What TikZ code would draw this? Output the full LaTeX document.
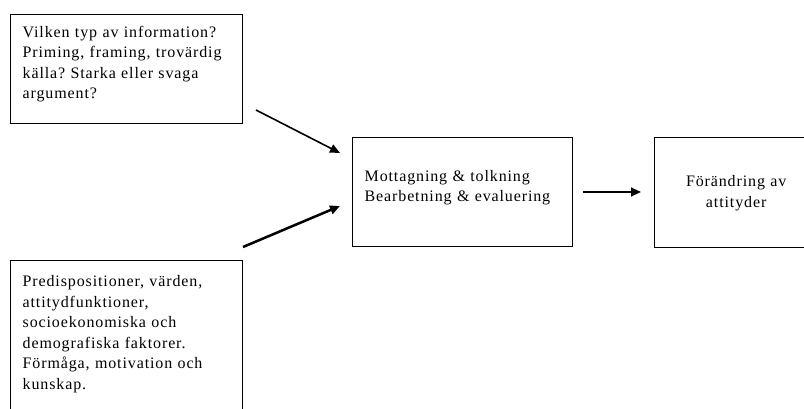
\documentclass[tikz,border=0pt]{standalone}
\usepackage{fontspec}
\setmainfont{Liberation Serif}[LetterSpace=5.5]
\usepackage{tikz}
\usetikzlibrary{arrows.meta}
\frenchspacing

\begin{document}
\begin{tikzpicture}
  [
    x=0.75pt, y=-0.75pt,
    Box/.style={draw=black, line width=1pt, anchor=north west, inner ysep=0pt,
      font={\fontsize{12}{15.4}\selectfont}},
    LeftBox/.style={Box, inner xsep=9pt, text width=156pt, align=left},
    Arrow/.style={-{Triangle[length=7.5pt, width=6.5pt]}, draw}
  ]
  \path[use as bounding box, clip] (0,0) rectangle (804,409);
  % Nodes
  \node[LeftBox, text height=17pt, text depth=64.7pt] (info) at(10, 14)
    {Vilken typ av information?\\Priming, framing, trovärdig\\källa? Starka eller svaga\\argument?};
  \node[LeftBox, text height=19.5pt, text depth=150pt] (pre) at(10, 260)
    {Predispositioner, värden,\\attitydfunktioner,\\socioekonomiska och\\demografiska faktorer.\\Förmåga, motivation och\\kunskap.};
  \node[Box, inner xsep=9pt, text width=147pt, align=left,
    text height=32.8pt, text depth=49pt] (proc) at(352, 137)
    {Mottagning \& tolkning\\Bearbetning \& evaluering};
  \node[Box, inner xsep=0pt, text width=122.25pt, align=center,
    text height=36.75pt, text depth=45.75pt] (change) at(654, 137)
    {Förändring av\\attityder};
  % Arrow ends
  \coordinate (a1) at(256, 110);
  \coordinate (b1) at(340, 153);
  \coordinate (a2) at(243, 247);
  \coordinate (b2) at(340, 206);
  \coordinate (a3) at(583, 192);
  \coordinate (b3) at(641, 192);
  % Lines
  \path [Arrow, line width=1.2pt] (a1) -- (b1);
  \path [Arrow, line width=1.9pt] (a2) -- (b2);
  \path [Arrow, line width=1.5pt] (a3) -- (b3);
\end{tikzpicture}
\end{document}
